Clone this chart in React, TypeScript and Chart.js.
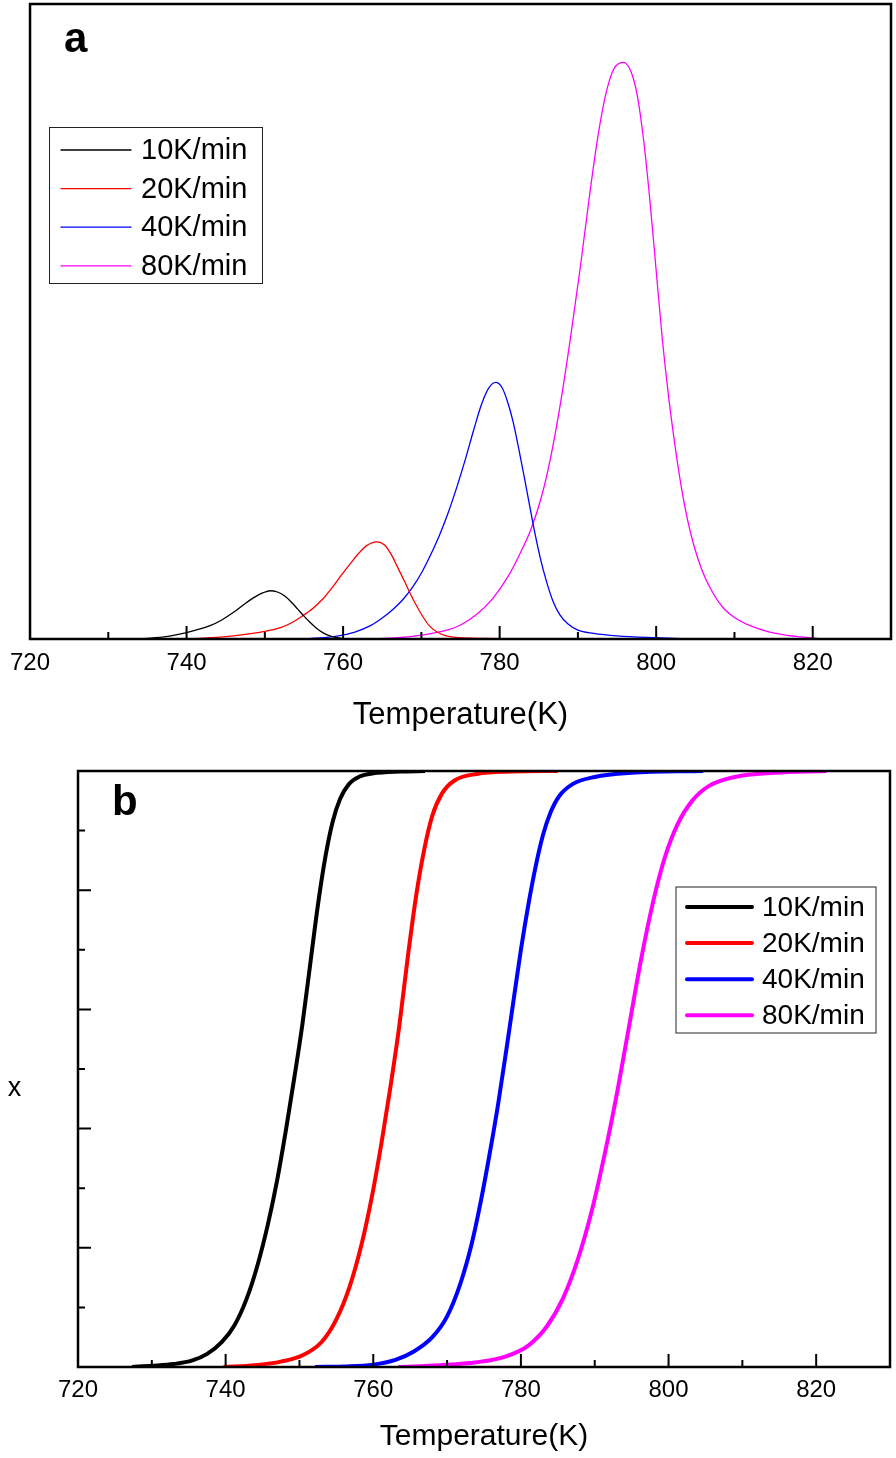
import React, { useEffect, useRef } from "react";
import { Chart, registerables } from "chart.js";

Chart.register(...registerables);

// ---------- shared ----------
const seriesLabels = ["10K/min", "20K/min", "40K/min", "80K/min"];
const seriesColors = ["#000000", "#ff0000", "#0000ff", "#ff00ff"];
const xTickLabels = [720, 740, 760, 780, 800, 820];
const xMinorTicks = [730, 750, 770, 790, 810];
const yMajorTicksB = [0.2, 0.4, 0.6, 0.8];
const yMinorTicksB = [0.1, 0.3, 0.5, 0.7, 0.9];
const xAxisTitle = "Temperature(K)";
const yAxisTitleB = "x";

// ---------- panel a : dx/dT peaks (arbitrary units) ----------
const tA10 = [733.8, 736, 738, 740, 741.5, 743, 744.5, 746, 747.5, 748.7, 749.8, 750.7, 751.6, 752.5, 753.4, 754.2, 755.0, 755.8, 756.6, 757.4, 758.3, 759.3, 760.5];
const vA10 = [0, 0.002, 0.005, 0.010, 0.015, 0.021, 0.030, 0.042, 0.056, 0.066, 0.073, 0.076, 0.074, 0.068, 0.058, 0.047, 0.036, 0.026, 0.017, 0.010, 0.005, 0.002, 0];

const tA20 = [740, 743, 746, 748, 750, 752, 753.5, 755.0, 756.2, 757.4, 758.6, 759.8, 761.0, 762.0, 763.0, 764.3, 765.3, 766.2, 767.0, 767.8, 768.6, 769.4, 770.2, 771.0, 772.0, 773.2, 775, 778, 784.7];
const vA20 = [0, 0.002, 0.005, 0.008, 0.012, 0.018, 0.026, 0.038, 0.049, 0.063, 0.081, 0.101, 0.120, 0.135, 0.147, 0.153, 0.148, 0.132, 0.112, 0.092, 0.071, 0.052, 0.035, 0.021, 0.011, 0.005, 0.002, 0.001, 0];

const tA40 = [752.5, 756, 759, 761.5, 763.5, 765.0, 766.5, 767.7, 768.9, 770.1, 771.2, 772.3, 773.4, 774.5, 775.6, 776.7, 777.7, 778.6, 779.5, 780.3, 781.0, 781.7, 782.4, 783.1, 783.8, 784.5, 785.2, 786.0, 786.8, 787.7, 788.7, 790, 792, 795, 800, 804.7];
const vA40 = [0, 0.001, 0.004, 0.011, 0.021, 0.033, 0.048, 0.063, 0.082, 0.106, 0.133, 0.163, 0.198, 0.238, 0.282, 0.330, 0.370, 0.395, 0.404, 0.396, 0.374, 0.343, 0.302, 0.258, 0.212, 0.167, 0.127, 0.090, 0.060, 0.038, 0.024, 0.014, 0.009, 0.005, 0.002, 0];

const tA80 = [763.5, 767, 770, 773, 775, 777, 779, 781, 782.5, 784, 785.3, 786.5, 787.7, 789.0, 790.3, 791.5, 792.6, 793.6, 794.6, 795.8, 796.8, 797.6, 798.4, 799.2, 800.0, 800.8, 801.6, 802.4, 803.2, 804.0, 804.8, 805.8, 807, 808.5, 810, 812, 814.5, 817.9, 821.3];
const vA80 = [0, 0.002, 0.006, 0.013, 0.022, 0.038, 0.062, 0.097, 0.132, 0.173, 0.222, 0.285, 0.366, 0.470, 0.585, 0.700, 0.795, 0.860, 0.898, 0.908, 0.893, 0.855, 0.785, 0.690, 0.580, 0.470, 0.380, 0.305, 0.240, 0.188, 0.148, 0.110, 0.078, 0.050, 0.034, 0.021, 0.011, 0.004, 0];

// ---------- panel b : conversion x ----------
const tB10 = [727.3, 730, 733, 735.5, 737.5, 739.5, 741.2, 742.8, 744.3, 745.7, 747.0, 748.2, 749.3, 750.4, 751.5, 752.5, 753.5, 754.5, 755.5, 756.7, 758.2, 760, 763.7, 767];
const vB10 = [0, 0.002, 0.005, 0.011, 0.022, 0.042, 0.070, 0.113, 0.170, 0.238, 0.315, 0.400, 0.485, 0.575, 0.680, 0.775, 0.855, 0.915, 0.953, 0.978, 0.991, 0.996, 0.999, 1.0];

const tB20 = [739.7, 744, 747.5, 750.5, 753, 755, 756.8, 758.4, 759.8, 761.1, 762.3, 763.5, 764.7, 765.8, 766.9, 768.0, 769.3, 771, 774, 779, 785];
const vB20 = [0, 0.003, 0.009, 0.020, 0.042, 0.080, 0.135, 0.205, 0.285, 0.375, 0.468, 0.570, 0.690, 0.790, 0.868, 0.925, 0.962, 0.984, 0.995, 0.999, 1.0];

const tB40 = [752.1, 756, 760, 763, 765.5, 768, 770, 771.8, 773.3, 774.6, 775.8, 776.9, 778.0, 779.0, 780.0, 781.0, 782.0, 783.0, 784.0, 785.2, 787.0, 790, 795, 804.7];
const vB40 = [0, 0.001, 0.004, 0.012, 0.026, 0.050, 0.085, 0.140, 0.205, 0.280, 0.360, 0.440, 0.530, 0.615, 0.700, 0.775, 0.840, 0.893, 0.930, 0.958, 0.978, 0.990, 0.997, 1.0];

const tB80 = [763.4, 769, 774, 778, 781, 783.5, 785.7, 787.7, 789.6, 791.4, 793.1, 794.7, 796.3, 797.9, 799.5, 801.2, 803.2, 805.5, 809, 814.3, 821.4];
const vB80 = [0, 0.003, 0.008, 0.018, 0.036, 0.068, 0.115, 0.180, 0.262, 0.360, 0.465, 0.575, 0.685, 0.780, 0.855, 0.910, 0.950, 0.975, 0.990, 0.997, 1.0];

const FONT = "'Liberation Sans', Arial, sans-serif";

function pairs(t: number[], v: number[]) {
  return t.map((x, i) => ({ x, y: v[i] }));
}

const framePlugin = {
  id: "frame",
  afterDatasetsDraw(chart: any, _args: any, opts: any) {
    const { ctx, chartArea } = chart;
    const { left, right, top, bottom } = chartArea;
    const xs = chart.scales.x;
    const ys = chart.scales.y;
    ctx.save();
    ctx.strokeStyle = "#000";
    ctx.lineWidth = 2.5;
    ctx.strokeRect(left, top, right - left, bottom - top);
    ctx.lineWidth = 2;
    ctx.beginPath();
    for (const v of xTickLabels) {
      const px = xs.getPixelForValue(v);
      ctx.moveTo(px, bottom);
      ctx.lineTo(px, bottom - 13);
    }
    for (const v of xMinorTicks) {
      const px = xs.getPixelForValue(v);
      ctx.moveTo(px, bottom);
      ctx.lineTo(px, bottom - 7);
    }
    if (opts.yTicks) {
      for (const v of yMajorTicksB) {
        const py = ys.getPixelForValue(v);
        ctx.moveTo(left, py);
        ctx.lineTo(left + 13, py);
      }
      for (const v of yMinorTicksB) {
        const py = ys.getPixelForValue(v);
        ctx.moveTo(left, py);
        ctx.lineTo(left + 7, py);
      }
    }
    ctx.stroke();

    ctx.fillStyle = "#000";
    // y axis title (upright, as in the reference)
    if (opts.yTitle) {
      ctx.font = `27px ${FONT}`;
      ctx.textAlign = "center";
      ctx.textBaseline = "alphabetic";
      ctx.fillText(opts.yTitle, opts.yTitleX, opts.yTitleY);
    }

    // panel letter
    ctx.font = `bold 42px ${FONT}`;
    ctx.textAlign = "left";
    ctx.textBaseline = "alphabetic";
    ctx.fillText(opts.letter, opts.letterX, opts.letterY);

    // legend
    const L = opts.legend;
    ctx.lineWidth = 1;
    ctx.strokeStyle = "#222";
    ctx.strokeRect(L.x0, L.y0, L.x1 - L.x0, L.y1 - L.y0);
    ctx.font = `${L.fontSize}px ${FONT}`;
    ctx.textBaseline = "middle";
    chart.data.datasets.forEach((ds: any, i: number) => {
      const y = L.rowY + i * L.rowGap;
      ctx.strokeStyle = ds.borderColor;
      ctx.lineWidth = L.lineWidth;
      ctx.lineCap = "round";
      ctx.beginPath();
      ctx.moveTo(L.lineX0, y);
      ctx.lineTo(L.lineX1, y);
      ctx.stroke();
      ctx.fillStyle = "#000";
      ctx.fillText(ds.label, L.textX, y + 1);
    });
    ctx.restore();
  },
};

function makeConfig(p: any) {
  return {
    type: "line",
    data: {
      datasets: p.series.map((s: any, i: number) => ({
        label: seriesLabels[i],
        data: s,
        borderColor: seriesColors[i],
        backgroundColor: seriesColors[i],
        borderWidth: p.lineWidth,
        pointRadius: 0,
        cubicInterpolationMode: "monotone",
        fill: false,
      })),
    },
    options: {
      animation: false,
      responsive: false,
      layout: { padding: p.padding },
      plugins: {
        legend: { display: false },
        tooltip: { enabled: false },
        frame: p.frame,
      },
      scales: {
        x: {
          type: "linear",
          min: 720,
          max: 830,
          grid: { display: false, drawTicks: false },
          border: { display: false },
          ticks: {
            stepSize: 20,
            includeBounds: false,
            padding: p.tickPad,
            color: "#000",
            font: { family: FONT, size: 24 },
            maxRotation: 0,
          },
          title: {
            display: true,
            text: xAxisTitle,
            color: "#000",
            font: { family: FONT, size: p.titleSize },
            padding: { top: 0, bottom: p.titlePadBottom },
          },
          afterFit: (s: any) => {
            s.height = p.xHeight;
          },
        },
        y: {
          type: "linear",
          min: 0,
          max: 1,
          display: p.yDisplay,
          grid: { display: false, drawTicks: false },
          border: { display: false },
          ticks: { display: false },
          afterFit: (s: any) => {
            if (p.yDisplay) s.width = p.yWidth;
          },
        },
      },
    },
    plugins: [framePlugin],
  };
}

export default function App() {
  const refA = useRef<HTMLCanvasElement>(null);
  const refB = useRef<HTMLCanvasElement>(null);

  useEffect(() => {
    const cfgA = makeConfig({
      series: [pairs(tA10, vA10), pairs(tA20, vA20), pairs(tA40, vA40), pairs(tA80, vA80)],
      lineWidth: 1.3,
      padding: { left: 25, right: 5, top: 4, bottom: 0 },
      tickPad: 10,
      titleSize: 31,
      titlePadBottom: 6,
      xHeight: 101,
      yDisplay: false,
      yWidth: 0,
      frame: {
        letter: "a",
        letterX: 64,
        letterY: 52,
        legend: {
          x0: 49.5, y0: 127.5, x1: 262.5, y1: 283.5,
          lineX0: 61, lineX1: 131, textX: 141, rowY: 150, rowGap: 38.6,
          fontSize: 29, lineWidth: 1.3,
        },
      },
    });
    const cfgB = makeConfig({
      series: [pairs(tB10, vB10), pairs(tB20, vB20), pairs(tB40, vB40), pairs(tB80, vB80)],
      lineWidth: 4,
      padding: { left: 0, right: 6, top: 31, bottom: 0 },
      tickPad: 9,
      titleSize: 30,
      titlePadBottom: 3,
      xHeight: 91,
      yDisplay: true,
      yWidth: 78,
      frame: {
        letter: "b",
        letterX: 112,
        letterY: 75,
        yTicks: true,
        yTitle: yAxisTitleB,
        yTitleX: 14.5,
        yTitleY: 356,
        legend: {
          x0: 676, y0: 147, x1: 876, y1: 293,
          lineX0: 687, lineX1: 752, textX: 762, rowY: 167, rowGap: 36.1,
          fontSize: 28, lineWidth: 4,
        },
      },
    });
    const a = new Chart(refA.current as any, cfgA as any);
    const b = new Chart(refB.current as any, cfgB as any);
    return () => {
      a.destroy();
      b.destroy();
    };
  }, []);

  return (
    <div style={{ position: "absolute", left: 0, top: 0, width: 896, height: 1458, background: "#fff" }}>
      <canvas ref={refA} width={896} height={740} style={{ position: "absolute", left: 0, top: 0 }} />
      <canvas ref={refB} width={896} height={718} style={{ position: "absolute", left: 0, top: 740 }} />
    </div>
  );
}
